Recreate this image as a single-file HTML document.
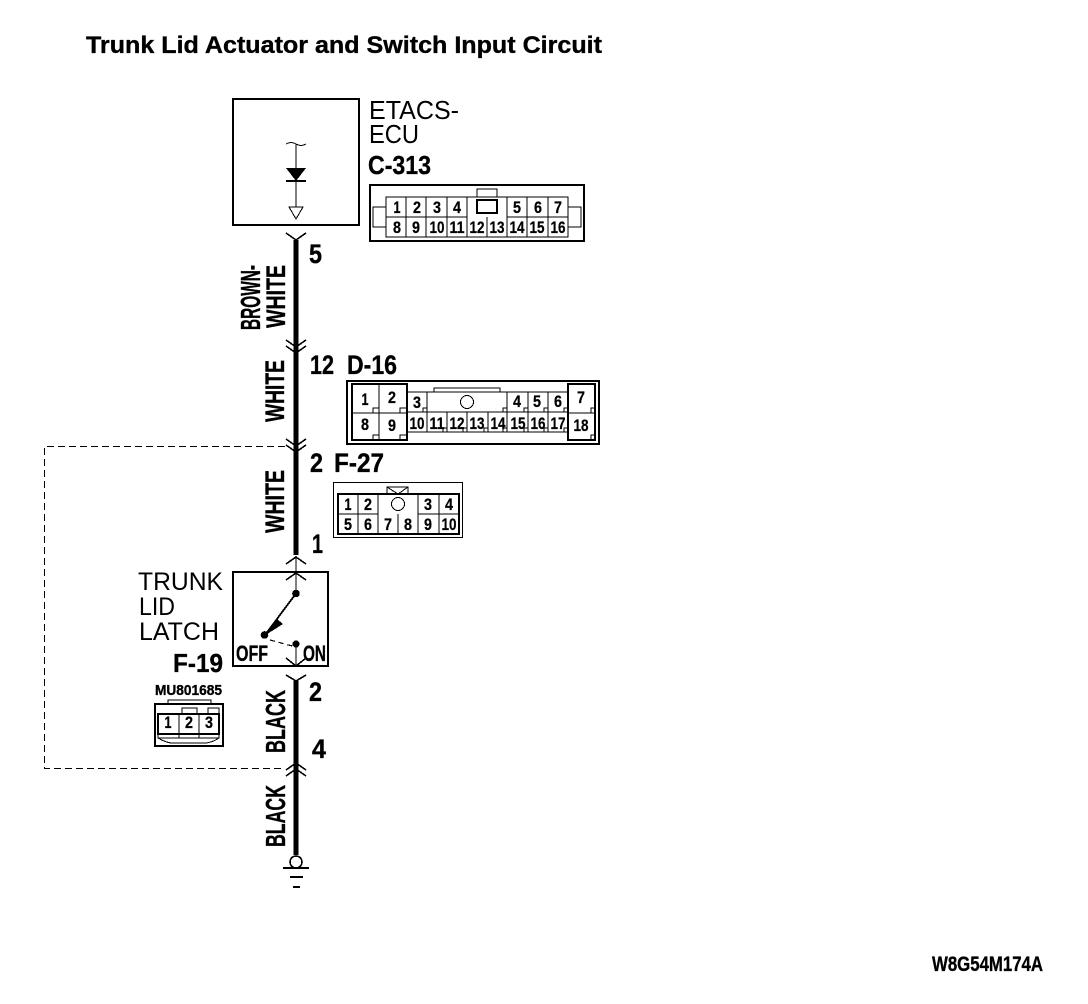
<!DOCTYPE html>
<html><head><meta charset="utf-8"><style>
html,body{margin:0;padding:0;background:#fff}
svg{display:block;shape-rendering:crispEdges}
text{font-family:"Liberation Sans",sans-serif;fill:#000}
.b{font-weight:bold;stroke:#000;stroke-width:.35}
.n{font-weight:bold;font-size:17px;text-anchor:middle;stroke:#000;stroke-width:.25}
.l{fill:none;stroke:#000;stroke-width:1}
.m{fill:none;stroke:#000;stroke-width:2}
.c{fill:none;stroke:#000;stroke-width:2}
</style></head><body>
<svg width="1088" height="1004" viewBox="0 0 1088 1004" xmlns="http://www.w3.org/2000/svg">
<text class="b" x="86" y="53" font-size="24" textLength="516" lengthAdjust="spacingAndGlyphs">Trunk Lid Actuator and Switch Input Circuit</text>

<!-- ECU -->
<rect class="m" x="233" y="99" width="126" height="126"/>
<path class="l" d="M286 144q5-3 10 0t10 0M296 144V207"/>
<path d="M286 168H306L296 181Z"/>
<path class="m" d="M286 181H306" />
<path class="l" d="M289 207H303L296 219Z"/>
<text x="369" y="119" font-size="26" textLength="90" lengthAdjust="spacingAndGlyphs">ETACS-</text>
<text x="369" y="143" font-size="26" textLength="50" lengthAdjust="spacingAndGlyphs">ECU</text>
<text class="b" x="368" y="174" font-size="26" textLength="63" lengthAdjust="spacingAndGlyphs">C-313</text>

<!-- C-313 -->
<rect class="m" x="370" y="185" width="214" height="56"/>
<path class="l" d="M386 197H568V237H386ZM386 217H467M507 217H568M406 197V237M426 197V237M447 197V237M467 197V237M487 217V237M507 197V237M527 197V237M548 197V237"/>
<path class="l" d="M386 207H373V227H386M568 207H581V227H568M477 197V189H497V197"/>
<rect class="c" x="477" y="200" width="20" height="13"/>
<text class="n" x="397" y="213" textLength="7" lengthAdjust="spacingAndGlyphs">1</text>
<text class="n" x="417" y="213" textLength="8" lengthAdjust="spacingAndGlyphs">2</text>
<text class="n" x="437" y="213" textLength="8" lengthAdjust="spacingAndGlyphs">3</text>
<text class="n" x="457" y="213" textLength="8" lengthAdjust="spacingAndGlyphs">4</text>
<text class="n" x="517" y="213" textLength="8" lengthAdjust="spacingAndGlyphs">5</text>
<text class="n" x="538" y="213" textLength="8" lengthAdjust="spacingAndGlyphs">6</text>
<text class="n" x="558" y="213" textLength="8" lengthAdjust="spacingAndGlyphs">7</text>
<text class="n" x="397" y="233" textLength="8" lengthAdjust="spacingAndGlyphs">8</text>
<text class="n" x="416" y="233" textLength="8" lengthAdjust="spacingAndGlyphs">9</text>
<text class="n" x="437" y="233" textLength="15" lengthAdjust="spacingAndGlyphs">10</text>
<text class="n" x="457" y="233" textLength="15" lengthAdjust="spacingAndGlyphs">11</text>
<text class="n" x="477" y="233" textLength="15" lengthAdjust="spacingAndGlyphs">12</text>
<text class="n" x="497" y="233" textLength="15" lengthAdjust="spacingAndGlyphs">13</text>
<text class="n" x="517" y="233" textLength="15" lengthAdjust="spacingAndGlyphs">14</text>
<text class="n" x="537" y="233" textLength="15" lengthAdjust="spacingAndGlyphs">15</text>
<text class="n" x="558" y="233" textLength="15" lengthAdjust="spacingAndGlyphs">16</text>

<!-- Wires -->
<path d="M296 240V555M296 681V855" stroke="#000" stroke-width="5" fill="none"/>
<path class="l" d="M296 557V572M296 572V593M296 644V666"/>
<g fill="none" stroke="#000" stroke-width="1.6">
<path d="M286 233L296 240L306 233"/>
<path d="M286 340L296 347L306 340M286 346L296 353L306 346"/>
<path d="M286 439L296 446L306 439M286 445L296 452L306 445"/>
<path d="M286 564L296 557L306 564"/>
<path d="M286 580L296 573L306 580"/>
<path d="M286 658L296 666L306 658"/>
<path d="M286 675L296 681L306 675"/>
<path d="M286 770L296 763L306 770M286 776L296 769L306 776"/>
</g>

<!-- Dashed -->
<path d="M285 446.500H44.500V768.500H285" fill="none" stroke="#000" stroke-width="1" stroke-dasharray="7 4"/>

<!-- Wire labels -->
<text class="b" transform="translate(260 330) rotate(-90)" font-size="28" textLength="65" lengthAdjust="spacingAndGlyphs">BROWN-</text>
<text class="b" transform="translate(285 328) rotate(-90)" font-size="27" textLength="63" lengthAdjust="spacingAndGlyphs">WHITE</text>
<text class="b" transform="translate(284 422) rotate(-90)" font-size="27" textLength="62" lengthAdjust="spacingAndGlyphs">WHITE</text>
<text class="b" transform="translate(284 533) rotate(-90)" font-size="27" textLength="63" lengthAdjust="spacingAndGlyphs">WHITE</text>
<text class="b" transform="translate(285 753) rotate(-90)" font-size="28" textLength="63" lengthAdjust="spacingAndGlyphs">BLACK</text>
<text class="b" transform="translate(285 847) rotate(-90)" font-size="28" textLength="62" lengthAdjust="spacingAndGlyphs">BLACK</text>

<text class="b" x="309" y="263" font-size="27" textLength="13" lengthAdjust="spacingAndGlyphs">5</text>
<text class="b" x="310" y="374" font-size="27" textLength="24" lengthAdjust="spacingAndGlyphs">12</text>
<text class="b" x="347" y="374" font-size="27" textLength="50" lengthAdjust="spacingAndGlyphs">D-16</text>
<text class="b" x="310" y="472" font-size="27" textLength="13" lengthAdjust="spacingAndGlyphs">2</text>
<text class="b" x="334" y="472" font-size="27" textLength="50" lengthAdjust="spacingAndGlyphs">F-27</text>
<text class="b" x="312" y="553" font-size="27" textLength="11" lengthAdjust="spacingAndGlyphs">1</text>
<text class="b" x="309" y="701" font-size="27" textLength="13" lengthAdjust="spacingAndGlyphs">2</text>
<text class="b" x="312" y="758" font-size="27" textLength="14" lengthAdjust="spacingAndGlyphs">4</text>

<!-- D-16 -->
<rect class="m" x="347" y="381" width="252" height="63"/>
<path class="m" d="M352 384H407V440H352ZM568 384H595V440H568Z"/>
<path class="l" d="M352 413H407M379 384V440M568 413H595M407 392H568M407 432H568M407 412H568M427 392V432M447 412V432M467 412V432M488 412V432M507 392V432M528 392V432M548 392V432"/>
<path class="l" d="M434 392V388H500V392"/>
<circle class="l" cx="467" cy="402" r="6.500" stroke-width="1.400"/>
<path class="l" d="M373 413V408H379M400 413V408H407M373 440V435H379M400 440V435H407M423 412V408H427M503 412V408H507M524 412V408H528M544 412V408H548M564 412V408H568M591 413V408H595M591 440V435H595M443 432V428H447M463 432V428H467M484 432V428H488M503 432V428H507M524 432V428H528M544 432V428H548M564 432V428H568"/>
<text class="n" x="365" y="405" textLength="7" lengthAdjust="spacingAndGlyphs">1</text>
<text class="n" x="392" y="403" textLength="8" lengthAdjust="spacingAndGlyphs">2</text>
<text class="n" x="417" y="408" textLength="8" lengthAdjust="spacingAndGlyphs">3</text>
<text class="n" x="517" y="407" textLength="8" lengthAdjust="spacingAndGlyphs">4</text>
<text class="n" x="537" y="407" textLength="8" lengthAdjust="spacingAndGlyphs">5</text>
<text class="n" x="558" y="407" textLength="8" lengthAdjust="spacingAndGlyphs">6</text>
<text class="n" x="581" y="403" textLength="8" lengthAdjust="spacingAndGlyphs">7</text>
<text class="n" x="365" y="430" textLength="8" lengthAdjust="spacingAndGlyphs">8</text>
<text class="n" x="392" y="431" textLength="8" lengthAdjust="spacingAndGlyphs">9</text>
<text class="n" x="417" y="429" textLength="15" lengthAdjust="spacingAndGlyphs">10</text>
<text class="n" x="437" y="429" textLength="15" lengthAdjust="spacingAndGlyphs">11</text>
<text class="n" x="457" y="429" textLength="15" lengthAdjust="spacingAndGlyphs">12</text>
<text class="n" x="477" y="429" textLength="15" lengthAdjust="spacingAndGlyphs">13</text>
<text class="n" x="498" y="429" textLength="15" lengthAdjust="spacingAndGlyphs">14</text>
<text class="n" x="518" y="429" textLength="15" lengthAdjust="spacingAndGlyphs">15</text>
<text class="n" x="538" y="429" textLength="15" lengthAdjust="spacingAndGlyphs">16</text>
<text class="n" x="558" y="429" textLength="15" lengthAdjust="spacingAndGlyphs">17</text>
<text class="n" x="581" y="431" textLength="15" lengthAdjust="spacingAndGlyphs">18</text>

<!-- F-27 -->
<rect class="l" x="333.500" y="482.500" width="129" height="55"/>
<path class="c" d="M338 494H459V534H338Z"/>
<path class="l" d="M338 514H378M418 514H459M358 494V534M378 494V534M398 514V534M418 494V534M439 494V534"/>
<path class="l" d="M387 494V487H408V494M387 487L398 494L408 487"/>
<circle class="l" cx="398" cy="504" r="6.500" stroke-width="1.400"/>
<text class="n" x="348" y="510" textLength="7" lengthAdjust="spacingAndGlyphs">1</text>
<text class="n" x="368" y="510" textLength="8" lengthAdjust="spacingAndGlyphs">2</text>
<text class="n" x="428" y="510" textLength="8" lengthAdjust="spacingAndGlyphs">3</text>
<text class="n" x="449" y="510" textLength="8" lengthAdjust="spacingAndGlyphs">4</text>
<text class="n" x="348" y="530" textLength="8" lengthAdjust="spacingAndGlyphs">5</text>
<text class="n" x="368" y="530" textLength="8" lengthAdjust="spacingAndGlyphs">6</text>
<text class="n" x="388" y="530" textLength="8" lengthAdjust="spacingAndGlyphs">7</text>
<text class="n" x="408" y="530" textLength="8" lengthAdjust="spacingAndGlyphs">8</text>
<text class="n" x="428" y="530" textLength="8" lengthAdjust="spacingAndGlyphs">9</text>
<text class="n" x="449" y="530" textLength="15" lengthAdjust="spacingAndGlyphs">10</text>

<!-- Switch -->
<rect class="c" x="233" y="572" width="95" height="94"/>
<circle cx="296" cy="593.500" r="3.800"/>
<circle cx="264.500" cy="635" r="3.800"/>
<circle cx="296" cy="644" r="3.500"/>
<path d="M296 593.500L265 635" stroke="#000" stroke-width="1.800"/>
<path d="M264 636L277 619L283 624Z"/>
<path d="M270 640L296 647" fill="none" stroke="#000" stroke-width="1.200" stroke-dasharray="5 4"/>
<text class="b" x="236" y="661" font-size="22" textLength="32" lengthAdjust="spacingAndGlyphs">OFF</text>
<text class="b" x="303" y="661" font-size="22" textLength="23" lengthAdjust="spacingAndGlyphs">ON</text>
<text x="138" y="590" font-size="25" textLength="85" lengthAdjust="spacingAndGlyphs">TRUNK</text>
<text x="139" y="615" font-size="25" textLength="36" lengthAdjust="spacingAndGlyphs">LID</text>
<text x="139" y="640" font-size="25" textLength="80" lengthAdjust="spacingAndGlyphs">LATCH</text>
<text class="b" x="173" y="672" font-size="26" textLength="50" lengthAdjust="spacingAndGlyphs">F-19</text>

<!-- F-19 connector -->
<text class="b" x="155" y="695" font-size="15" textLength="67" lengthAdjust="spacingAndGlyphs">MU801685</text>
<rect class="c" x="155" y="704" width="68" height="42"/>
<path class="l" d="M168 704V700H211V704M182 714V708H197V714M208 714V708H219V714"/>
<path class="c" d="M158 714H219V734H158Z"/>
<path class="l" d="M179 714V738M199 714V738M158 734V738H219V734M158 738Q168 744 176 743H201Q210 744 219 738"/>
<text class="n" x="168" y="728" font-size="15" textLength="7" lengthAdjust="spacingAndGlyphs">1</text>
<text class="n" x="189" y="728" font-size="15" textLength="8" lengthAdjust="spacingAndGlyphs">2</text>
<text class="n" x="209" y="728" font-size="15" textLength="8" lengthAdjust="spacingAndGlyphs">3</text>

<!-- Ground -->
<circle cx="296" cy="862" r="6" fill="#fff" stroke="#000" stroke-width="1.600"/>
<path d="M283 868H309M290 877H303M293 887H300" stroke="#000" stroke-width="2" fill="none"/>

<text class="b" x="932" y="971" font-size="21" textLength="111" lengthAdjust="spacingAndGlyphs">W8G54M174A</text>
</svg>
</body></html>
